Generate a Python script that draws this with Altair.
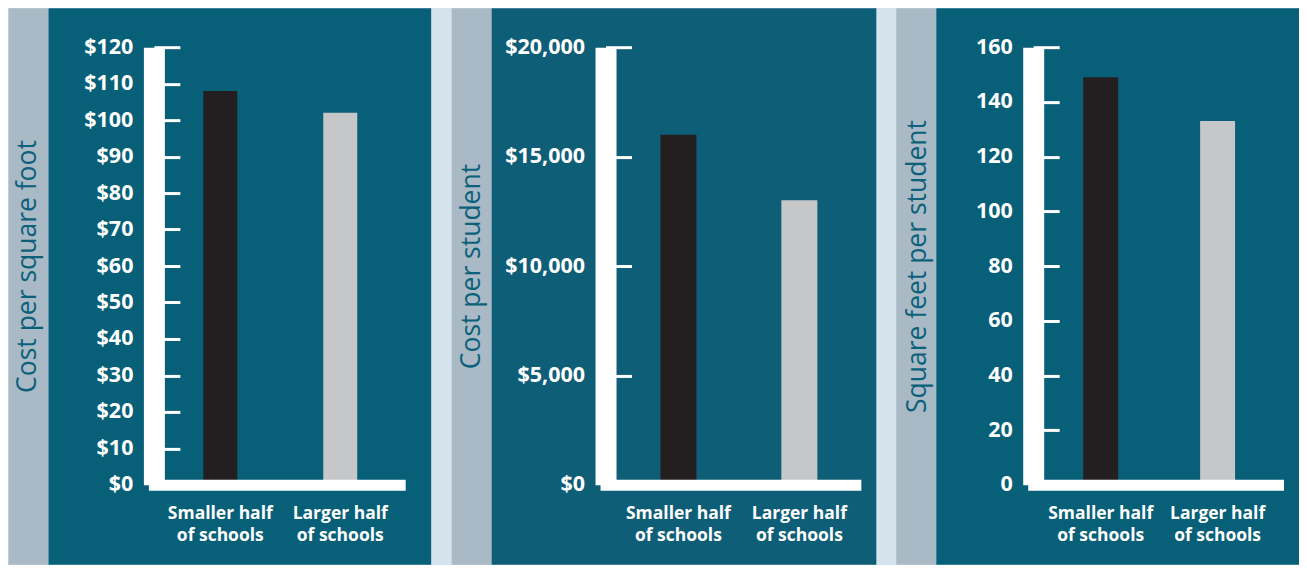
import altair as alt
import pandas as pd

# ---- data ----
groups = ["Smaller half|of schools", "Larger half|of schools"]
cost_per_sqft = [108, 102]
cost_per_student = [16000, 13000]
sqft_per_student = [149, 133]
bar_colors = ["#231f20", "#c6c7c9"]

titles = ["Cost per square foot", "Cost per student", "Square feet per student"]
y_max = [120, 20000, 160]
y_step = [10, 5000, 20]
y_format = ["$,.0f", "$,.0f", "d"]

# ---- styling ----
TEAL1 = "#075f78"
TEAL2 = "#0f5e77"
GREY = "#a9bac6"
LIGHT = "#d5e3ec"
TITLE_C = "#0c617a"
FONT = "Open Sans"
H = 438
TOP = -39
BOTTOM = 518


def panel(values, title, ymax, ystep, fmt, W, pI, pO, align, grey_x, teal_x2, teal_color, title_x):
    df = pd.DataFrame({"group": groups, "value": values, "color": bar_colors})
    one = pd.DataFrame({"k": [0]})
    grey = alt.Chart(one).mark_rect(color=GREY).encode(
        x=alt.value(grey_x), x2=alt.value(grey_x + 40), y=alt.value(TOP), y2=alt.value(BOTTOM)
    )
    teal = alt.Chart(one).mark_rect(color=teal_color).encode(
        x=alt.value(grey_x + 40), x2=alt.value(teal_x2), y=alt.value(TOP), y2=alt.value(BOTTOM)
    )
    bars = alt.Chart(df).mark_bar().encode(
        x=alt.X(
            "group:N",
            sort=groups,
            scale=alt.Scale(paddingInner=pI, paddingOuter=pO, align=align),
            axis=alt.Axis(
                title=None,
                labelExpr="split(datum.label, '|')",
                labelAngle=0,
                labelColor="white",
                labelFont=FONT,
                labelFontWeight="bold",
                labelFontSize=17.5,
                labelLineHeight=22,
                labelBaseline="top",
                labelPadding=20,
                ticks=False,
                tickSize=0,
                domain=True,
                domainColor="white",
                domainWidth=11,
                domainCap="square",
                grid=False,
                zindex=2,
            ),
        ),
        y=alt.Y(
            "value:Q",
            scale=alt.Scale(domain=[0, ymax], nice=False, zero=True),
            axis=alt.Axis(
                title=title,
                titleColor=TITLE_C,
                titleFont=FONT,
                titleFontWeight="normal",
                titleFontSize=26.5,
                titleX=title_x,
                titleBaseline="middle",
                values=list(range(0, ymax + 1, ystep)),
                format=fmt,
                labelColor="white",
                labelFont=FONT,
                labelFontWeight="bold",
                labelFontSize=21.5,
                labelPadding=21,
                ticks=False,
                tickSize=0,
                domain=True,
                domainColor="white",
                domainWidth=21,
                domainCap="butt",
                grid=True,
                gridColor="white",
                gridOpacity=1,
                gridWidth=3,
                gridDash=[26, 3000],
                zindex=1,
            ),
        ),
        color=alt.Color("color:N", scale=None, legend=None),
    )
    return alt.layer(grey, teal, bars).properties(width=W, height=H)


p1 = panel(cost_per_sqft, titles[0], y_max[0], y_step[0], y_format[0],
           246, 0.7167, 0.383, 0.538, -145.5, 277.5, TEAL1, -126)
p2 = panel(cost_per_student, titles[1], y_max[1], y_step[1], y_format[1],
           250, 0.7025, 0.384, 0.591, -154, 271, TEAL2, -134)
p3 = panel(sqft_per_student, titles[2], y_max[2], y_step[2], y_format[2],
           245, 0.701, 0.3975, 0.538, -137, 266, TEAL1, -116)

chart = (
    alt.hconcat(p1, p2, p3, spacing=20)
    .properties(background=LIGHT, padding=0)
    .configure_view(stroke=None)
)

chart.save("out.html", embed_options={"renderer": "svg", "actions": False})
